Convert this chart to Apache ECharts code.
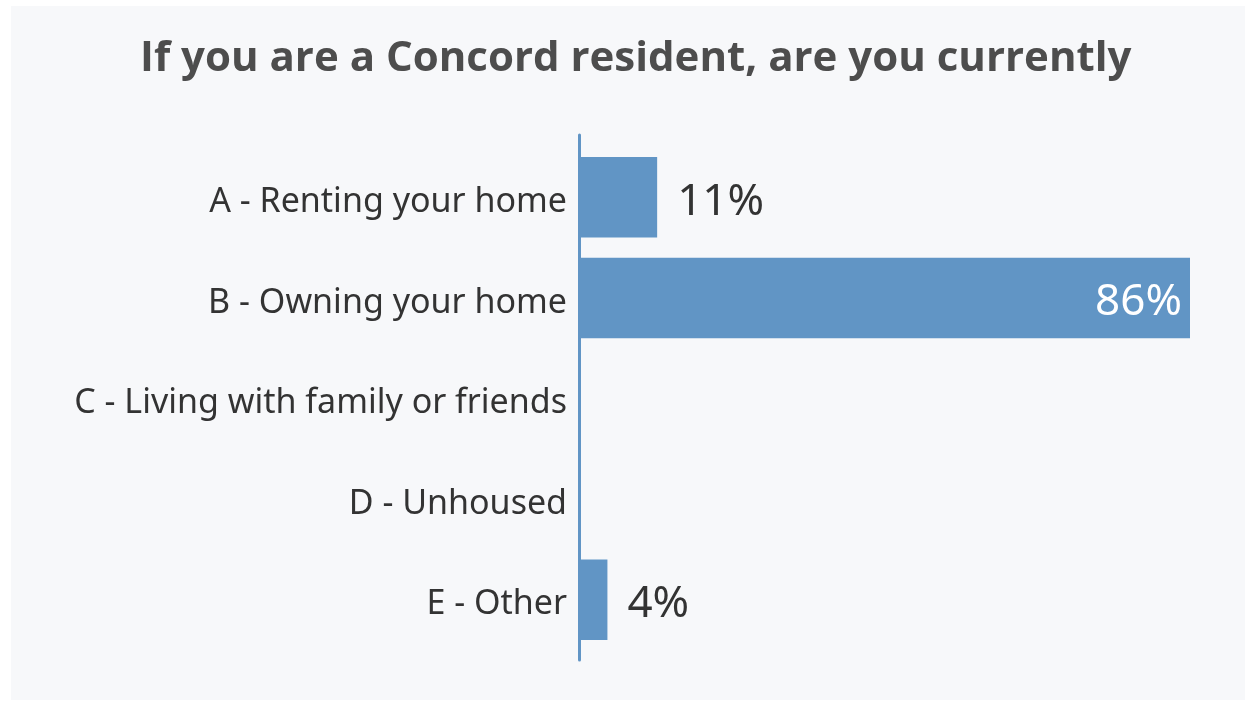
<!DOCTYPE html>
<html>
<head>
<meta charset="utf-8">
<script src="https://cdn.jsdelivr.net/npm/echarts@6/dist/echarts.min.js"></script>
<style>
  html, body { margin: 0; padding: 0; background: #ffffff; }
  #chart { position: absolute; left: 11px; top: 6px; width: 1234px; height: 694px; background: #f7f8fa; }
</style>
</head>
<body>
<div id="chart"></div>
<script>
const titleText = 'If you are a Concord resident, are you currently';
const categories = [
  'A - Renting your home',
  'B - Owning your home',
  'C - Living with family or friends',
  'D - Unhoused',
  'E - Other'
];
const shares = [11, 86, 0, 0, 4];

const barColor = '#6195c5';
const chart = echarts.init(document.getElementById('chart'), null, { renderer: 'canvas' });

// Bars with value labels: inside the bar when it is long, beside it otherwise
const barData = shares.map(v => ({
  value: v,
  label: v > 50
    ? { show: true, position: 'insideRight', distance: 8, rich: { v: { color: '#ffffff' } } }
    : { show: v > 0, position: 'right', distance: 20, rich: { v: { color: '#333333' } } }
}));

chart.setOption({
  backgroundColor: '#f7f8fa',
  animation: false,
  title: {
    text: titleText,
    left: 124,
    top: 27,
    textStyle: { fontFamily: 'Open Sans', fontWeight: 'bold', fontSize: 42, color: '#4d4d4d' }
  },
  grid: [
    { left: 568, top: 141, width: 611, height: 503, containLabel: false },
    { left: 568, top: 129, width: 611, height: 525, containLabel: false }
  ],
  xAxis: [
    { type: 'value', gridIndex: 0, min: 0, max: 86, show: false },
    { type: 'value', gridIndex: 1, min: 0, max: 86, show: false }
  ],
  yAxis: [
    {
      type: 'category', gridIndex: 0, data: categories, inverse: true,
      axisLine: { show: false }, axisTick: { show: false },
      axisLabel: {
        margin: 12,
        formatter: v => '{c|' + v + '}',
        rich: { c: { fontFamily: 'Noto Sans', fontSize: 34, color: '#333333', padding: [10, 0, 0, 0] } }
      }
    },
    {
      type: 'category', gridIndex: 1, data: categories, inverse: true,
      axisLine: { show: true, lineStyle: { color: barColor, width: 3 } },
      axisTick: { show: false }, axisLabel: { show: false }
    }
  ],
  series: [{
    type: 'bar',
    xAxisIndex: 0, yAxisIndex: 0,
    data: barData,
    barCategoryGap: '20%',
    itemStyle: { color: barColor },
    label: {
      formatter: p => '{v|' + p.value + '%}',
      rich: { v: { fontFamily: 'Noto Sans', fontSize: 44, padding: [10, 0, 0, 0] } }
    }
  }]
});
</script>
</body>
</html>
